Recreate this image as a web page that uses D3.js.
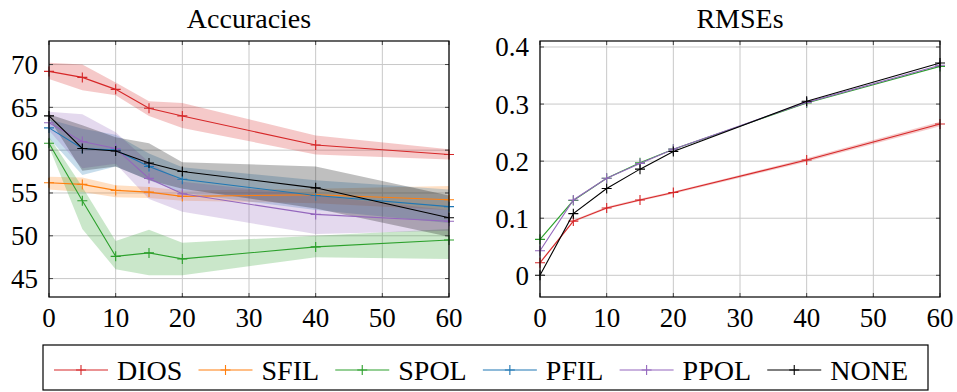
<!DOCTYPE html>
<html>
<head>
<meta charset="utf-8">
<script src="https://cdn.jsdelivr.net/npm/d3@7"></script>
<style>
body { margin: 0; background: #fff; }
</style>
</head>
<body>
<div id="plot"></div>
<script>
var steps = [0, 5, 10, 15, 20, 40, 60];
var methods = ["DIOS", "SFIL", "SPOL", "PFIL", "PPOL", "NONE"];
var xTicks = [0, 10, 20, 30, 40, 50, 60];
var accTicks = [45, 50, 55, 60, 65, 70];
var rmseTicks = [0, 0.1, 0.2, 0.3, 0.4];

// accuracy: mean, lower and upper edge of the band
var accDIOS = [69.2, 68.5, 67.1, 64.9, 64.0, 60.6, 59.5];
var accDIOSLow = [68.3, 67.0, 66.4, 64.0, 62.6, 59.5, 58.9];
var accDIOSHigh = [70.2, 70.0, 67.9, 65.7, 65.5, 61.7, 60.1];

var accSFIL = [56.2, 56.0, 55.3, 55.1, 54.6, 54.8, 54.2];
var accSFILLow = [55.4, 55.1, 54.5, 54.4, 54.1, 53.8, 53.0];
var accSFILHigh = [56.9, 56.8, 55.9, 55.7, 55.3, 55.5, 55.8];

var accSPOL = [60.8, 54.1, 47.6, 48.0, 47.3, 48.7, 49.5];
var accSPOLLow = [60.4, 50.8, 46.1, 45.4, 45.4, 47.5, 47.3];
var accSPOLHigh = [61.6, 55.7, 49.4, 50.7, 49.2, 50.0, 50.8];

var accPFIL = [62.6, 60.2, 60.0, 58.1, 56.6, 54.7, 53.4];
var accPFILLow = [61.4, 57.1, 58.1, 56.5, 55.0, 53.0, 51.5];
var accPFILHigh = [63.6, 62.5, 61.8, 59.6, 58.0, 56.5, 55.4];

var accPPOL = [63.2, 61.0, 60.2, 56.7, 54.9, 52.5, 51.7];
var accPPOLLow = [62.3, 57.9, 58.4, 54.3, 52.8, 50.2, 50.6];
var accPPOLHigh = [64.5, 64.2, 62.1, 58.6, 56.3, 54.7, 53.0];

var accNONE = [64.0, 60.2, 59.9, 58.5, 57.5, 55.6, 52.1];
var accNONELow = [63.7, 57.6, 58.1, 56.5, 55.5, 53.2, 49.9];
var accNONEHigh = [64.2, 62.9, 61.5, 60.8, 58.6, 58.1, 54.7];

// rmse (SFIL and PFIL have none)
var rmseDIOS = [0.022, 0.095, 0.118, 0.132, 0.145, 0.202, 0.265];
var rmseDIOSLow = [0.020, 0.093, 0.116, 0.130, 0.143, 0.199, 0.261];
var rmseDIOSHigh = [0.024, 0.097, 0.120, 0.134, 0.147, 0.205, 0.269];
var rmseSPOL = [0.063, 0.131, 0.170, 0.197, 0.221, 0.302, 0.366];
var rmsePPOL = [0.043, 0.132, 0.170, 0.196, 0.221, 0.303, 0.368];
var rmseNONE = [0.000, 0.108, 0.152, 0.186, 0.217, 0.305, 0.372];

var colors = {
    DIOS: "#d62728",
    SFIL: "#ff7f0e",
    SPOL: "#2ca02c",
    PFIL: "#1f77b4",
    PPOL: "#9467bd",
    NONE: "#000000"
};

var FONT = "'Liberation Serif', 'Times New Roman', 'DejaVu Serif', serif";

var accSeries = [
    {name: "DIOS", mean: accDIOS, low: accDIOSLow, high: accDIOSHigh},
    {name: "SFIL", mean: accSFIL, low: accSFILLow, high: accSFILHigh},
    {name: "SPOL", mean: accSPOL, low: accSPOLLow, high: accSPOLHigh},
    {name: "PFIL", mean: accPFIL, low: accPFILLow, high: accPFILHigh},
    {name: "PPOL", mean: accPPOL, low: accPPOLLow, high: accPPOLHigh},
    {name: "NONE", mean: accNONE, low: accNONELow, high: accNONEHigh}
];

var rmseSeries = [
    {name: "DIOS", mean: rmseDIOS, low: rmseDIOSLow, high: rmseDIOSHigh},
    {name: "SPOL", mean: rmseSPOL},
    {name: "PPOL", mean: rmsePPOL},
    {name: "NONE", mean: rmseNONE}
];

var svg = d3.select("#plot")
    .append("svg")
    .attr("width", 957)
    .attr("height", 392)
    .style("font-family", FONT);

function drawPanel(opt)
{
    var x = d3.scaleLinear().domain([0, 60]).range([opt.left, opt.right]);
    var y = d3.scaleLinear().domain(opt.yDomain).range([opt.bottom, opt.top]);

    var g = svg.append("g");

    // grid
    g.selectAll(".gx").data(xTicks).enter().append("line")
        .attr("x1", d => x(d)).attr("x2", d => x(d))
        .attr("y1", opt.top).attr("y2", opt.bottom)
        .style("stroke", "#c8c8c8").style("stroke-width", 1);
    g.selectAll(".gy").data(opt.yTicks).enter().append("line")
        .attr("x1", opt.left).attr("x2", opt.right)
        .attr("y1", d => y(d)).attr("y2", d => y(d))
        .style("stroke", "#c8c8c8").style("stroke-width", 1);

    // bands first
    var area = d3.area()
        .x((d, i) => x(steps[i]))
        .y0(d => y(d[0]))
        .y1(d => y(d[1]));
    opt.series.forEach(function(s) {
        if (!s.low) return;
        var pts = s.low.map((v, i) => [v, s.high[i]]);
        g.append("path")
            .attr("d", area(pts))
            .style("fill", colors[s.name])
            .style("fill-opacity", 0.25)
            .style("stroke", "none");
    });

    var line = d3.line()
        .x((d, i) => x(steps[i]))
        .y(d => y(d));
    opt.series.forEach(function(s) {
        g.append("path")
            .attr("d", line(s.mean))
            .style("fill", "none")
            .style("stroke", colors[s.name])
            .style("stroke-width", 1.1);
        g.selectAll(null).data(s.mean).enter().append("path")
            .attr("d", (d, i) => plus(x(steps[i]), y(d)))
            .style("stroke", colors[s.name])
            .style("stroke-width", 1.1);
    });

    // tick marks, inward on all sides
    var tl = 4;
    xTicks.forEach(function(t) {
        g.append("path").attr("d", "M" + x(t) + "," + opt.bottom + "v" + (-tl) + "M" + x(t) + "," + opt.top + "v" + tl)
            .style("stroke", "#444").style("stroke-width", 1);
    });
    opt.yTicks.forEach(function(t) {
        g.append("path").attr("d", "M" + opt.left + "," + y(t) + "h" + tl + "M" + opt.right + "," + y(t) + "h" + (-tl))
            .style("stroke", "#444").style("stroke-width", 1);
    });

    g.append("rect")
        .attr("x", opt.left).attr("y", opt.top)
        .attr("width", opt.right - opt.left).attr("height", opt.bottom - opt.top)
        .style("fill", "none").style("stroke", "#000").style("stroke-width", 1.2);

    g.selectAll(".xl").data(xTicks).enter().append("text")
        .attr("x", d => x(d)).attr("y", opt.bottom + 30)
        .style("font-family", FONT)
        .style("text-anchor", "middle").style("font-size", "27px")
        .text(d => d);
    g.selectAll(".yl").data(opt.yTicks).enter().append("text")
        .attr("x", opt.left - 11).attr("y", d => y(d))
        .attr("dy", "0.35em")
        .style("font-family", FONT)
        .style("text-anchor", "end").style("font-size", "27px")
        .text(opt.fmt);

    g.append("text")
        .attr("x", (opt.left + opt.right) / 2).attr("y", 28)
        .style("font-family", FONT)
        .style("text-anchor", "middle").style("font-size", "28px")
        .text(opt.title);
}

function plus(cx, cy)
{
    var r = 5;
    return "M" + (cx - r) + "," + cy + "h" + (2 * r) + "M" + cx + "," + (cy - r) + "v" + (2 * r);
}

drawPanel({
    left: 49, right: 449, top: 41, bottom: 297,
    yDomain: [42.85, 72.75], yTicks: accTicks,
    series: accSeries, title: "Accuracies",
    fmt: d => d
});

drawPanel({
    left: 540, right: 940, top: 41, bottom: 297,
    yDomain: [-0.038, 0.4105], yTicks: rmseTicks,
    series: rmseSeries, title: "RMSEs",
    fmt: d => d === 0 ? "0" : d3.format(".1f")(d)
});

// legend: entries spread over a fixed box
var legLeft = 43, legRight = 928, ly = 370;
var leg = svg.append("g");
leg.append("rect")
    .attr("x", legLeft).attr("y", 345)
    .attr("width", legRight - legLeft).attr("height", 45)
    .style("fill", "#fff").style("stroke", "#000").style("stroke-width", 1.2);

var entries = methods.map(function(m) {
    var t = leg.append("text")
        .attr("y", ly).attr("dy", "0.35em")
        .style("font-family", FONT)
        .style("font-size", "28px")
        .text(m);
    return {name: m, text: t, w: t.node().getComputedTextLength()};
});
var used = d3.sum(entries, e => 54 + 9 + e.w);
var gap = (legRight - legLeft - 11 - 20 - used) / (entries.length - 1);
var lx = legLeft + 11;
entries.forEach(function(e) {
    leg.append("line")
        .attr("x1", lx).attr("x2", lx + 54)
        .attr("y1", ly).attr("y2", ly)
        .style("stroke", colors[e.name]).style("stroke-width", 1.1);
    leg.append("path").attr("d", plus(lx + 27, ly))
        .style("stroke", colors[e.name]).style("stroke-width", 1.1);
    e.text.attr("x", lx + 63);
    lx = lx + 63 + e.w + gap;
});
</script>
</body>
</html>
